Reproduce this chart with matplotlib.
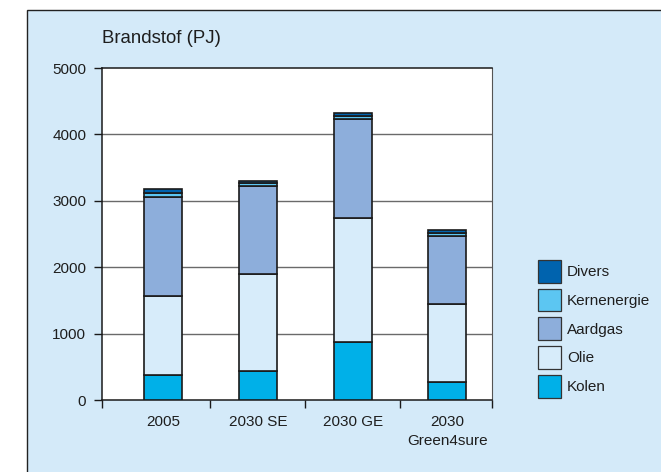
import matplotlib
matplotlib.use("Agg")
import matplotlib.pyplot as plt
from matplotlib.patches import Rectangle, Patch
import numpy as np

plt.rcParams['font.family'] = ['Liberation Sans', 'DejaVu Sans']

categories = ["2005", "2030 SE", "2030 GE", "2030\nGreen4sure"]
series_names = ["Kolen", "Olie", "Aardgas", "Kernenergie", "Divers"]
kolen = [370, 440, 870, 270]
olie = [1200, 1460, 1875, 1180]
aardgas = [1480, 1325, 1485, 1020]
kernenergie = [60, 50, 50, 50]
divers = [70, 30, 40, 35]
yticks = [0, 1000, 2000, 3000, 4000, 5000]

colors = {
    "Kolen": "#00b0e8",
    "Olie": "#d7ecfa",
    "Aardgas": "#8daedb",
    "Kernenergie": "#5cc6f2",
    "Divers": "#0063ae",
}
panel_color = "#d4eaf9"
text_color = "#1e1e1e"

W, H = 661, 472
fig = plt.figure(figsize=(W / 100, H / 100), dpi=100)
fig.patch.set_facecolor("white")

# light blue panel with border top/left
panel = Rectangle((27 / W, -0.05), 1.2, 1 - 10 / H + 0.05, transform=fig.transFigure,
                  facecolor=panel_color, edgecolor="#222222", linewidth=1.0, zorder=-5)
fig.patches.append(panel)

ax = fig.add_axes([102 / W, 1 - 400 / H, (492 - 102) / W, (400 - 68) / H])
ax.set_facecolor("white")

x = np.arange(len(categories))
bottom = np.zeros(len(categories))
handles = []
for name, vals in zip(series_names, [kolen, olie, aardgas, kernenergie, divers]):
    vals = np.array(vals, dtype=float)
    ax.bar(x, vals, bottom=bottom, width=0.40, color=colors[name],
           edgecolor="#1a1a1a", linewidth=1.2, zorder=3)
    bottom += vals
    handles.append(Patch(facecolor=colors[name], edgecolor="#333333", linewidth=0.9, label=name))

ax.set_xlim(-0.643, 3.47)
ax.set_ylim(0, 5000)

# y axis
ax.set_yticks(yticks)
ax.set_yticklabels([str(v) for v in yticks])
ax.tick_params(axis="y", direction="out", length=5.8, width=1.0, color="#1a1a1a",
               pad=5.5, labelsize=11, labelcolor=text_color)
for v in yticks[1:-1]:
    ax.axhline(v, color="#6a6a6a", linewidth=1.0, zorder=1)

# x axis: boundary ticks, labels at centers
bounds = [-0.643, 0.5, 1.5, 2.5, 3.47]
ax.set_xticks(bounds)
ax.set_xticklabels([""] * len(bounds))
ax.tick_params(axis="x", which="major", direction="out", length=5.8, width=1.0, color="#1a1a1a")
ax.set_xticks(x, minor=True)
ax.set_xticklabels(categories, minor=True, linespacing=1.45)
ax.tick_params(axis="x", which="minor", length=0, pad=10.5, labelsize=11, labelcolor=text_color)

for s in ["left", "bottom", "top"]:
    ax.spines[s].set_color("#1a1a1a")
    ax.spines[s].set_linewidth(1.1)
ax.spines["right"].set_color("#555555")
ax.spines["right"].set_linewidth(0.8)

fig.text(102 / W, 1 - 42.7 / H, "Brandstof (PJ)", fontsize=13.4, color=text_color,
         ha="left", va="baseline")

leg = fig.legend(handles=handles[::-1], loc="upper left",
                 bbox_to_anchor=(538 / W, 1 - 260 / H), frameon=False, fontsize=11,
                 handlelength=1.5, handleheight=1.9, labelspacing=0.4,
                 handletextpad=0.4, borderpad=0, borderaxespad=0)
for t in leg.get_texts():
    t.set_color(text_color)

fig.savefig("out.png", dpi=100, facecolor=fig.get_facecolor())
